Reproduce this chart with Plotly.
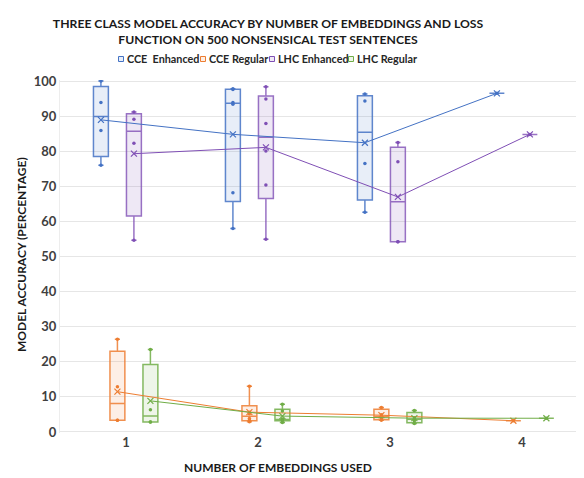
import math
import plotly.graph_objects as go

# ---------------- data ----------------
categories = [1, 2, 3, 4]
tick_labels = ["1", "2", "3", "4"]
series_names = ["CCE  Enhanced", "CCE Regular", "LHC Enhanced", "LHC Regular"]

cce_enhanced = [[76.0, 85.9, 93.9, 100.0],
                [58.0, 68.2, 93.4, 93.9, 97.6, 97.8],
                [62.6, 76.5, 94.3, 96.3],
                [96.5]]
cce_regular = [[3.3, 3.3, 12.9, 26.4],
               [2.9, 3.3, 3.8, 5.2, 5.6, 13.0],
               [3.3, 3.9, 4.9, 7.0],
               [3.2]]
lhc_enhanced = [[54.6, 82.3, 89.1, 91.2],
                [54.9, 70.4, 80.1, 87.9, 94.9, 98.4],
                [54.2, 54.2, 77.0, 82.5],
                [84.8]]
lhc_regular = [[2.8, 2.8, 6.3, 23.5],
               [2.7, 3.4, 3.4, 3.7, 6.0, 7.9],
               [2.4, 3.2, 4.0, 6.1],
               [3.9]]

all_series = [cce_enhanced, cce_regular, lhc_enhanced, lhc_regular]

# ---------------- style ----------------
colors = ["#4472C4", "#ED7D31", "#7F4FB5", "#70AD47"]
fills = ["rgba(68,114,196,0.12)", "rgba(237,125,49,0.12)",
         "rgba(127,79,181,0.13)", "rgba(112,173,71,0.12)"]
lines = ["rgba(68,114,196,0.85)", "rgba(237,125,49,0.85)",
         "rgba(127,79,181,0.80)", "rgba(112,173,71,0.85)"]
offsets = [-0.19, -0.065, 0.06, 0.185]   # position of each series inside a category
box_width = 0.113
FONT = "Lato"

W_FIG, H_FIG = 576, 470
L, R, T, B = 52, 0, 72, 45
PW = W_FIG - L - R
PH = H_FIG - T - B


def px2paper_x(px):
    return (px - L) / PW


def px2paper_y(py):
    return 1 - (py - T) / PH


def q_exc(vals, p):
    """Excel QUARTILE.EXC style quartile."""
    s = sorted(vals)
    n = len(s)
    if n == 1:
        return s[0]
    h = p * (n + 1)
    if h <= 1:
        return s[0]
    if h >= n:
        return s[-1]
    lo = int(math.floor(h))
    frac = h - lo
    return s[lo - 1] + frac * (s[lo] - s[lo - 1])


fig = go.Figure()

for si, data in enumerate(all_series):
    xs = [c + offsets[si] for c in categories]
    q1 = [q_exc(d, 0.25) for d in data]
    med = [q_exc(d, 0.5) for d in data]
    q3 = [q_exc(d, 0.75) for d in data]
    lo = [min(d) for d in data]
    hi = [max(d) for d in data]
    mean = [sum(d) / len(d) for d in data]

    fig.add_trace(go.Box(
        x=xs, q1=q1, median=med, q3=q3, lowerfence=lo, upperfence=hi,
        name=series_names[si], width=box_width, whiskerwidth=0.35,
        fillcolor=fills[si], line=dict(color=lines[si], width=1.5),
        boxpoints=False, showlegend=False, hoverinfo="skip",
    ))
    # inner points
    px, py = [], []
    for x, d in zip(xs, data):
        for v in d:
            px.append(x)
            py.append(v)
    fig.add_trace(go.Scatter(
        x=px, y=py, mode="markers", showlegend=False, hoverinfo="skip",
        marker=dict(size=3.5, color=colors[si]),
    ))
    # mean line with x markers
    fig.add_trace(go.Scatter(
        x=xs, y=mean, mode="lines+markers", showlegend=False, hoverinfo="skip",
        line=dict(color=colors[si], width=1),
        marker=dict(symbol="x-thin", size=6, line=dict(color=colors[si], width=1.2)),
    ))

# ---------------- compact legend (Excel style) ----------------
legend_square_px = [113, 195, 264, 343]
legend_y_px = 51
annotations = []
shapes = []
for si, name in enumerate(series_names):
    sx = legend_square_px[si]
    shapes.append(dict(
        type="rect", xref="paper", yref="paper",
        x0=px2paper_x(sx - 2.5), x1=px2paper_x(sx + 2.5),
        y0=px2paper_y(legend_y_px + 2.5), y1=px2paper_y(legend_y_px - 2.5),
        line=dict(color=colors[si], width=1), fillcolor=fills[si],
    ))
    annotations.append(dict(
        text=name.replace("  ", "&nbsp; "), xref="paper", yref="paper",
        x=px2paper_x(sx + 3.5), y=px2paper_y(legend_y_px),
        xanchor="left", yanchor="middle", showarrow=False,
        font=dict(family=FONT, size=10.8, color="#262626", weight="bold"),
    ))

annotations += [
    dict(text="NUMBER OF EMBEDDINGS USED", xref="paper", yref="paper",
         x=px2paper_x(270), y=px2paper_y(459), yanchor="middle", showarrow=False,
         font=dict(family=FONT, size=12, color="#1a1a1a", weight="bold")),
    dict(text="MODEL ACCURACY (PERCENTAGE)", xref="paper", yref="paper",
         x=px2paper_x(13), y=px2paper_y(247), textangle=-90,
         xanchor="center", yanchor="middle", showarrow=False,
         font=dict(family=FONT, size=12, color="#1a1a1a", weight="bold")),
]

fig.update_layout(
    width=W_FIG, height=H_FIG,
    margin=dict(l=L, r=R, t=T, b=B, autoexpand=False),
    paper_bgcolor="white", plot_bgcolor="white",
    font=dict(family=FONT, color="#404040"),
    boxmode="overlay",
    showlegend=False,
    title=dict(
        text="THREE CLASS MODEL ACCURACY BY NUMBER OF EMBEDDINGS AND LOSS<br>FUNCTION ON 500 NONSENSICAL TEST SENTENCES",
        x=260 / W_FIG, xanchor="center", xref="container",
        y=1 - 20 / H_FIG, yanchor="top", yref="container",
        font=dict(family=FONT, size=12.2, color="#1a1a1a", weight="bold"),
    ),
    xaxis=dict(
        range=[0.5, 4.47], tickmode="array", tickvals=categories, ticktext=tick_labels,
        showgrid=False, zeroline=False, showline=False, ticks="",
        tickfont=dict(family=FONT, size=13, color="#404040", weight="bold"),
    ),
    yaxis=dict(
        range=[-0.3, 100.3], tickmode="array", tickvals=list(range(0, 101, 10)),
        showgrid=True, gridcolor="#E6E6E6", gridwidth=1, zeroline=False,
        showline=True, linecolor="#EDEDED", linewidth=1, ticks="",
        tickfont=dict(family=FONT, size=13, color="#404040", weight="bold"),
    ),
    shapes=shapes,
    annotations=annotations,
)

fig.write_html("out.html")
